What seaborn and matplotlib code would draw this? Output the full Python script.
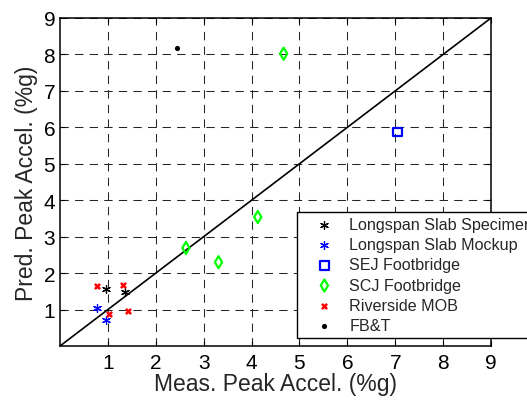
import numpy as np
import pandas as pd
import matplotlib
matplotlib.use("Agg")
import matplotlib.pyplot as plt
import seaborn as sns

# values
specimen_x = [0.96, 1.35]
specimen_y = [1.57, 1.49]
mockup_x = [0.77, 0.96]
mockup_y = [1.04, 0.72]
sej_x = [7.04]
sej_y = [5.87]
scj_x = [2.63, 3.31, 4.13, 4.67]
scj_y = [2.69, 2.30, 3.54, 8.02]
riverside_x = [0.77, 1.32, 1.43, 1.02]
riverside_y = [1.66, 1.68, 0.97, 0.88]
fbt_x = [2.44]
fbt_y = [8.19]

names = ["Longspan Slab Specimen", "Longspan Slab Mockup", "SEJ Footbridge",
         "SCJ Footbridge", "Riverside MOB", "FB&T"]
ticks = [1, 2, 3, 4, 5, 6, 7, 8, 9]

sns.set_theme(style="white")
plt.rcParams["font.family"] = ["Liberation Sans", "DejaVu Sans"]

frames = []
for name, xs, ys in zip(names,
                        [specimen_x, mockup_x, sej_x, scj_x, riverside_x, fbt_x],
                        [specimen_y, mockup_y, sej_y, scj_y, riverside_y, fbt_y]):
    frames.append(pd.DataFrame({"meas": xs, "pred": ys, "group": name}))
df = pd.concat(frames, ignore_index=True)

styles = {
    "Longspan Slab Specimen": dict(marker=(6, 2, 0), color="black", s=32, linewidth=0.9),
    "Longspan Slab Mockup": dict(marker=(6, 2, 0), color="blue", s=32, linewidth=0.9),
    "SEJ Footbridge": dict(marker="s", color="blue", facecolor="none", edgecolor="blue", s=40, linewidth=1.6),
    "SCJ Footbridge": dict(marker="d", color="#00ff00", facecolor="none", edgecolor="#00ff00", s=38, linewidth=1.6),
    "Riverside MOB": dict(marker="x", color="red", s=14, linewidth=1.8),
    "FB&T": dict(marker="o", color="black", s=14, linewidth=0),
}

fig = plt.figure(figsize=(5.27, 4.02), dpi=100)
ax = fig.add_axes([60 / 527, 55 / 402, 431 / 527, 328 / 402])

ax.plot([0, 9], [0, 9], color="black", lw=1.2, zorder=1)
for name in names:
    sub = df[df.group == name]
    sns.scatterplot(data=sub, x="meas", y="pred", label=name, ax=ax, zorder=3, **styles[name])

ax.set_xlim(0, 9)
ax.set_ylim(0, 9)
ax.set_xticks(ticks)
ax.set_yticks(ticks)
ax.grid(True, color="0.15", lw=0.75, linestyle=(0, (8, 6)))
ax.set_axisbelow(True)
for sp in ax.spines.values():
    sp.set_visible(True)
    sp.set_color("black")
    sp.set_linewidth(1.1)
ax.tick_params(direction="in", length=3.6, width=0.8, top=True, right=True,
               labelsize=15, colors="black", left=True, bottom=True)
ax.tick_params(axis="x", pad=5)
ax.tick_params(axis="y", pad=3.5)
ax.set_xlabel("Meas. Peak Accel. (%g)", fontsize=16.5, labelpad=0)
ax.set_ylabel("Pred. Peak Accel. (%g)", fontsize=16.5, labelpad=4)

# legend runs past the right edge, as in the original figure
leg = ax.legend(loc="upper left", bbox_to_anchor=(237 / 431, 134 / 328), borderaxespad=0,
                fontsize=11.6, frameon=True, fancybox=False, framealpha=1,
                edgecolor="black", handlelength=2.8, handletextpad=0.15,
                borderpad=0.3, labelspacing=0.33, scatterpoints=1)
leg.get_frame().set_linewidth(1.0)

fig.savefig("out.png", dpi=100)
